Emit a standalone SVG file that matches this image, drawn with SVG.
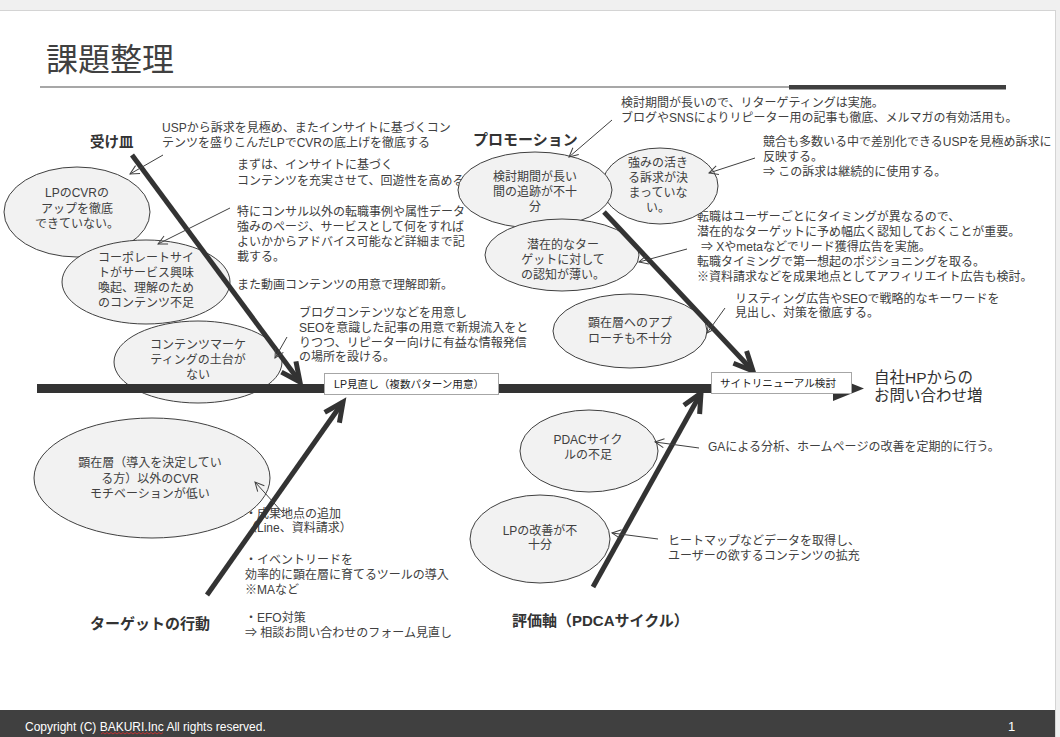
<svg xmlns="http://www.w3.org/2000/svg" width="1060" height="737" viewBox="0 0 1060 737">
<style>
text{font-family:'Liberation Sans','Noto Sans CJK JP',sans-serif;fill:#404040;}
.t{font-size:12px;}
.c{font-size:12px;text-anchor:middle;}
.lab{font-size:15px;font-weight:bold;fill:#333;}
.el{fill:#f2f2f2;stroke:#404040;stroke-width:1;}
.box{fill:#fff;stroke:#a6a6a6;stroke-width:1;}
.bx{font-size:10.6px;fill:#222;}
.bone{stroke:#333;stroke-width:5;fill:none;marker-end:url(#big);}
.thin{stroke:#404040;stroke-width:1;fill:none;marker-end:url(#small);}
</style>
<defs>
<marker id="big" markerUnits="userSpaceOnUse" viewBox="-26 -14 30 28" markerWidth="30" markerHeight="28" refX="0" refY="0" orient="auto" overflow="visible">
<path d="M-19,-9 L0,0 L-19,9" fill="none" stroke="#333" stroke-width="5"/>
</marker>
<marker id="small" markerUnits="userSpaceOnUse" viewBox="-12 -7 14 14" markerWidth="14" markerHeight="14" refX="0" refY="0" orient="auto" overflow="visible">
<path d="M-9,-4.5 L0,0 L-9,4.5" fill="none" stroke="#404040" stroke-width="1"/>
</marker>
</defs>
<rect x="0" y="0" width="1060" height="737" fill="#ffffff"/>
<rect x="0" y="0" width="1060" height="10" fill="#f0f0f0"/>
<line x1="0" y1="10.5" x2="1055" y2="10.5" stroke="#d4d4d4"/>
<rect x="1055" y="0" width="5" height="737" fill="#f0f0f0"/>
<line x1="1055.5" y1="10" x2="1055.5" y2="737" stroke="#d4d4d4"/>

<g id="title">
<text x="46" y="71" style="font-size:32px;fill:#404040">課題整理</text>
<line x1="40" y1="87" x2="789" y2="87" stroke="#8a8a8a" stroke-width="1.5"/>
<rect x="789" y="85" width="217" height="4.5" fill="#404040"/>
</g>

<g id="labels">
<text class="lab" x="90" y="147" style="font-size:14.5px">受け皿</text>
<text class="lab" x="473" y="145">プロモーション</text>
<text class="lab" x="90" y="629">ターゲットの行動</text>
<text class="lab" x="512" y="626">評価軸（PDCAサイクル）</text>
</g>

<g id="notes">
<g id="note-usp"><text class="t" x="162" y="132">USPから訴求を見極め、またインサイトに基づくコン</text><text class="t" x="162" y="147">テンツを盛りこんだLPでCVRの底上げを徹底する</text></g>
<g id="note-insight"><text class="t" x="237" y="169">まずは、インサイトに基づく</text><text class="t" x="237" y="185">コンテンツを充実させて、回遊性を高める</text></g>
<g id="note-case"><text class="t" x="237" y="216">特にコンサル以外の転職事例や属性データ</text><text class="t" x="237" y="231">強みのページ、サービスとして何をすれば</text><text class="t" x="237" y="246">よいかからアドバイス可能など詳細まで記</text><text class="t" x="237" y="261">載する。</text><text class="t" x="237" y="289">また動画コンテンツの用意で理解即新。</text></g>
<g id="note-blog"><text class="t" x="299" y="317">ブログコンテンツなどを用意し</text><text class="t" x="299" y="332">SEOを意識した記事の用意で新規流入をと</text><text class="t" x="299" y="347">りつつ、リピーター向けに有益な情報発信</text><text class="t" x="299" y="361">の場所を設ける。</text></g>
<g id="note-retarget"><text class="t" x="621" y="107">検討期間が長いので、リターゲティングは実施。</text><text class="t" x="621" y="122">ブログやSNSによりリピーター用の記事も徹底、メルマガの有効活用も。</text></g>
<g id="note-compete"><text class="t" x="763" y="146">競合も多数いる中で差別化できるUSPを見極め訴求に</text><text class="t" x="763" y="161">反映する。</text><text class="t" x="763" y="176">⇒ この訴求は継続的に使用する。</text></g>
<g id="note-timing"><text class="t" x="697" y="221">転職はユーザーごとにタイミングが異なるので、</text><text class="t" x="697" y="236">潜在的なターゲットに予め幅広く認知しておくことが重要。</text><text class="t" x="701" y="251">⇒ Xやmetaなどでリード獲得広告を実施。</text><text class="t" x="697" y="266">転職タイミングで第一想起のポジショニングを取る。</text><text class="t" x="697" y="281">※資料請求などを成果地点としてアフィリエイト広告も検討。</text></g>
<g id="note-listing"><text class="t" x="735" y="303">リスティング広告やSEOで戦略的なキーワードを</text><text class="t" x="735" y="317">見出し、対策を徹底する。</text></g>
<g id="note-ga"><text class="t" x="708" y="451">GAによる分析、ホームページの改善を定期的に行う。</text></g>
<g id="note-heatmap"><text class="t" x="668" y="545">ヒートマップなどデータを取得し、</text><text class="t" x="668" y="560">ユーザーの欲するコンテンツの拡充</text></g>
<g id="note-action"><text class="t" x="245" y="518">・成果地点の追加</text><text class="t" x="245" y="532">（Line、資料請求）</text><text class="t" x="245" y="564">・イベントリードを</text><text class="t" x="245" y="579">効率的に顕在層に育てるツールの導入</text><text class="t" x="245" y="594">※MAなど</text><text class="t" x="245" y="622">・EFO対策</text><text class="t" x="245" y="637">⇒ 相談お問い合わせのフォーム見直し</text></g>
</g>

<g id="n-lpcvr"><ellipse class="el" cx="77" cy="212" rx="73" ry="45"/><text class="c" x="77" y="197">LPのCVRの</text><text class="c" x="77" y="213">アップを徹底</text><text class="c" x="77" y="228">できていない。</text></g>
<g id="n-corp"><ellipse class="el" cx="146" cy="282" rx="84" ry="42"/><text class="c" x="146" y="262">コーポレートサイ</text><text class="c" x="146" y="277">トがサービス興味</text><text class="c" x="146" y="292">喚起、理解のため</text><text class="c" x="146" y="307">のコンテンツ不足</text></g>
<g id="n-cm"><ellipse class="el" cx="198" cy="362" rx="84" ry="41"/><text class="c" x="198" y="349">コンテンツマーケ</text><text class="c" x="198" y="364">ティングの土台が</text><text class="c" x="198" y="379">ない</text></g>
<g id="n-kenzai"><ellipse class="el" cx="152" cy="478" rx="118" ry="60"/><text class="c" x="150" y="467">顕在層（導入を決定してい</text><text class="c" x="150" y="483">る方）以外のCVR</text><text class="c" x="150" y="498">モチベーションが低い</text></g>
<g id="n-strength"><ellipse class="el" cx="660" cy="186" rx="58" ry="38"/><text class="c" x="658" y="167">強みの活き</text><text class="c" x="658" y="182">る訴求が決</text><text class="c" x="658" y="197">まっていな</text><text class="c" x="658" y="212">い。</text></g>
<g id="n-period"><ellipse class="el" cx="535" cy="190" rx="77" ry="38"/><text class="c" x="535" y="181">検討期間が長い</text><text class="c" x="535" y="196">間の追跡が不十</text><text class="c" x="535" y="211">分</text></g>
<g id="n-latent"><ellipse class="el" cx="562" cy="255" rx="77" ry="36"/><text class="c" x="563" y="249">潜在的なター</text><text class="c" x="563" y="264">ゲットに対して</text><text class="c" x="563" y="279">の認知が薄い。</text></g>
<g id="n-approach"><ellipse class="el" cx="630" cy="331" rx="77" ry="37"/><text class="c" x="630" y="327">顕在層へのアプ</text><text class="c" x="630" y="343">ローチも不十分</text></g>
<g id="n-pdac"><ellipse class="el" cx="589" cy="451" rx="69" ry="41"/><text class="c" x="588" y="444">PDACサイク</text><text class="c" x="588" y="459">ルの不足</text></g>
<g id="n-lpimprove"><ellipse class="el" cx="540" cy="539" rx="70" ry="44"/><text class="c" x="540" y="535">LPの改善が不</text><text class="c" x="540" y="549">十分</text></g>

<g id="connectors">
<line x1="37" y1="388.5" x2="840" y2="388.5" stroke="#333" stroke-width="9"/>
<polygon points="833,376 864,388.5 833,401" fill="#333"/>
<line class="bone" x1="132" y1="155" x2="300" y2="382"/>
<line class="bone" x1="604" y1="212" x2="753" y2="371"/>
<line class="bone" x1="207" y1="595" x2="343" y2="402"/>
<line class="bone" x1="593" y1="587" x2="701" y2="393"/>
<line class="thin" x1="163" y1="155" x2="130" y2="174"/>
<line class="thin" x1="230" y1="208" x2="158" y2="244"/>
<line class="thin" x1="287" y1="337" x2="275" y2="358"/>
<line class="thin" x1="612" y1="120" x2="569" y2="157"/>
<line class="thin" x1="755" y1="158" x2="709" y2="173"/>
<line class="thin" x1="687" y1="249" x2="639" y2="262"/>
<line class="thin" x1="725" y1="308" x2="707" y2="333"/>
<line class="thin" x1="699" y1="448" x2="655" y2="442"/>
<line class="thin" x1="658" y1="539" x2="612" y2="533"/>
<line class="thin" x1="283" y1="513" x2="255" y2="482"/>
</g>

<g id="n-lpbox"><rect class="box" x="324.5" y="373.5" width="174" height="21"/><text class="bx" x="334" y="387.5">LP見直し（複数パターン用意）</text></g>
<g id="n-sitebox"><rect class="box" x="711.5" y="372.5" width="140" height="21"/><text class="bx" x="720" y="386.5">サイトリニューアル検討</text></g>
<g id="n-goal"><text x="874" y="383" style="font-size:15.5px;fill:#333">自社HPからの</text><text x="874" y="401" style="font-size:15.5px;fill:#333">お問い合わせ増</text></g>

<g id="footer">
<rect x="0" y="710" width="1055" height="27" fill="#404040"/>
<text x="25" y="731" style="font-size:12px;fill:#ffffff">Copyright (C) BAKURI.Inc All rights reserved.</text>
<path d="M101,734 l2,-1.5 l2,1.5 l2,-1.5 l2,1.5 l2,-1.5 l2,1.5 l2,-1.5 l2,1.5 l2,-1.5 l2,1.5 l2,-1.5 l2,1.5 l2,-1.5 l2,1.5 l2,-1.5 l2,1.5 l2,-1.5 l2,1.5 l2,-1.5 l2,1.5 l2,-1.5 l2,1.5 l2,-1.5 l2,1.5 l2,-1.5 l2,1.5 l2,-1.5 l2,1.5 l2,-1.5 l2,1.5 l2,-1.5" fill="none" stroke="#e03030" stroke-width="0.8"/>
<text x="1008" y="731" style="font-size:13px;fill:#ffffff">1</text>
</g>
</svg>
